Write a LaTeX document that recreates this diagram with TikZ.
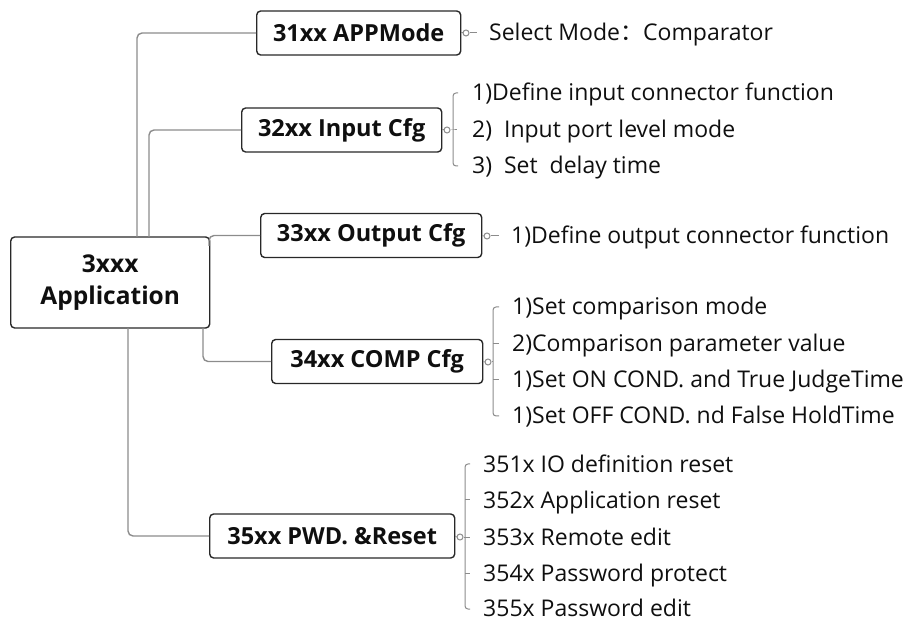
\documentclass[tikz,border=0pt]{standalone}
\usepackage{fontspec}
\setmainfont{Open Sans}
\newfontfamily\cjk{Noto Sans CJK SC}
\usetikzlibrary{calc}
\definecolor{lineg}{RGB}{140,140,140}
\definecolor{boxb}{RGB}{40,40,40}
\definecolor{txt}{RGB}{15,15,15}
\begin{document}
\begin{tikzpicture}[x=1pt,y=-1pt,
  conn/.style={draw=lineg,line width=1.4pt,rounded corners=5pt},
  topic/.style={draw=boxb,line width=1.4pt,rounded corners=4pt,fill=white,text=txt,
     font=\fontsize{23.5}{28}\selectfont\bfseries,anchor=west,inner sep=0pt,minimum height=44pt},
  item/.style={anchor=base west,inner sep=0pt,text depth=0pt,text=txt,font=\fontsize{23}{27}\selectfont},
  knob/.style={draw=lineg,line width=1pt,fill=white,circle,inner sep=0pt,minimum size=6pt}]
\useasboundingbox (0,0) rectangle (922,620);
% root
\node[topic,minimum width=199pt,minimum height=91pt,align=center,
  font=\fontsize{24.5}{32}\selectfont\bfseries] (root) at (10,282.5) {3xxx\\Application};
% main topics
\node[topic,minimum width=204pt] (b1) at (256,33) {31xx APPMode};
\node[topic,minimum width=200pt] (b2) at (241,130) {32xx Input Cfg};
\node[topic,minimum width=221pt] (b3) at (260,235.5) {33xx Output Cfg};
\node[topic,minimum width=211pt] (b4) at (271,361.5) {34xx COMP Cfg};
\node[topic,minimum width=245pt] (b5) at (209,536) {35xx PWD. \&Reset};
% connectors root -> topics
\coordinate (r1) at (137,237);
\coordinate (r2) at (149,237);
\coordinate (r3) at (209,246);
\coordinate (r4) at (203,328);
\coordinate (r5) at (128,328);
\draw[conn] (r1) |- (b1.west);
\draw[conn] (r2) |- (b2.west);
\draw[conn] (r3) |- (b3.west);
\draw[conn] (r4) |- (b4.west);
\draw[conn] (r5) |- (b5.west);
% items (baseline = centre line + 8)
\node[item] (t1) at (489,41) {Select Mode{\cjk ：}Comparator};
\node[item] (t21) at (472,101) {1)Define input connector function};
\node[item] (t22) at (472,138) {2)\ \ Input port level mode};
\node[item] (t23) at (472,174) {3)\ \ Set\ \ delay time};
\node[item] (t3) at (511,244) {1)Define output connector function};
\node[item] (t41) at (512,315) {1)Set comparison mode};
\node[item] (t42) at (512,352) {2)Comparison parameter value};
\node[item] (t43) at (512,388) {1)Set ON COND. and True JudgeTime};
\node[item] (t44) at (512,424) {1)Set OFF COND. nd False HoldTime};
\node[item] (t51) at (483,472) {351x IO definition reset};
\node[item] (t52) at (483,508) {352x Application reset};
\node[item] (t53) at (483,545) {353x Remote edit};
\node[item] (t54) at (483,581) {354x Password protect};
\node[item] (t55) at (483,616.5) {355x Password edit};
% bracket reference coordinates
\coordinate (x2) at (453,0);
\coordinate (x4) at (493,0);
\coordinate (x5) at (465,0);
\coordinate (y21) at (0,93);  \coordinate (y22) at (0,130); \coordinate (y23) at (0,166);
\coordinate (y41) at (0,307); \coordinate (y42) at (0,344); \coordinate (y43) at (0,380); \coordinate (y44) at (0,416);
\coordinate (y51) at (0,464); \coordinate (y52) at (0,500); \coordinate (y53) at (0,537); \coordinate (y54) at (0,573); \coordinate (y55) at (0,609);
% knobs
\node[knob] (k1) at (466,33) {};
\node[knob] (k2) at (447,130) {};
\node[knob] (k3) at (487,236) {};
\node[knob] (k4) at (488,362) {};
\node[knob] (k5) at (460,537) {};
\begin{scope}[every path/.style={draw=lineg,line width=1pt}]
\draw (b1.east) -- (k1.west);
\draw (b2.east) -- (k2.west);
\draw (b3.east) -- (k3.west);
\draw (b4.east) -- (k4.west);
\draw (b5.east) -- (k5.west);
\draw (k1.east) -- ++(7,0);
\draw (k3.east) -- ++(8,0);
% bracket 32
\draw[rounded corners=3pt] ($(x2 |- y21)+(5,0)$) -| (x2 |- y23) -- ($(x2 |- y23)+(5,0)$);
\draw (k2.east) -- (x2 |- k2.east) -- ++(4,0);
% bracket 34
\draw[rounded corners=3pt] ($(x4 |- y41)+(6,0)$) -| (x4 |- y44) -- ($(x4 |- y44)+(6,0)$);
\draw (x4 |- y42) -- ++(6,0);
\draw (x4 |- y43) -- ++(6,0);
\draw (k4.east) -- (x4 |- k4.east);
% bracket 35
\draw[rounded corners=3pt] ($(x5 |- y51)+(5,0)$) -| (x5 |- y55) -- ($(x5 |- y55)+(5,0)$);
\draw (x5 |- y52) -- ++(5,0);
\draw (x5 |- y53) -- ++(5,0);
\draw (x5 |- y54) -- ++(5,0);
\draw (k5.east) -- (x5 |- k5.east);
\end{scope}
\end{tikzpicture}
\end{document}
